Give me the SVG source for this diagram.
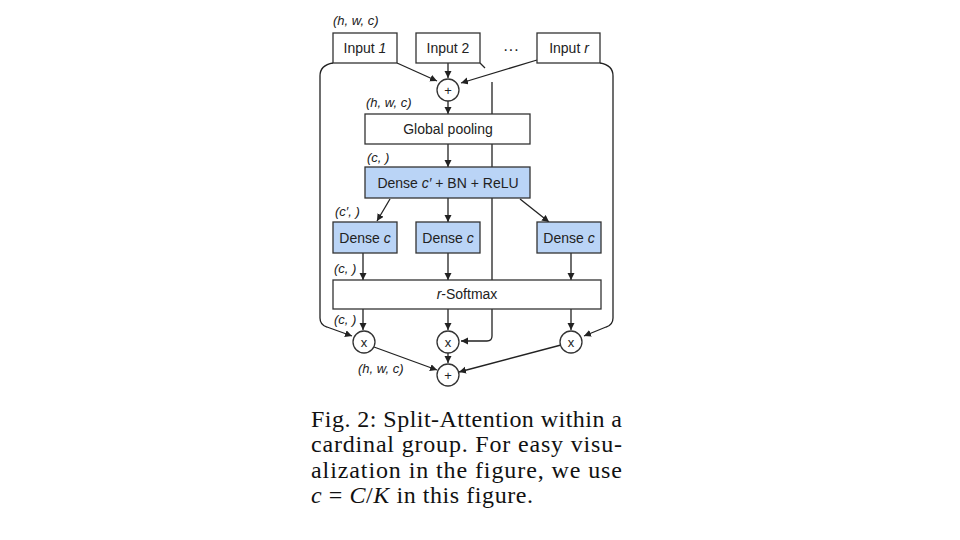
<svg xmlns="http://www.w3.org/2000/svg" width="960" height="540" viewBox="0 0 960 540">
<style>
.box{fill:#fff;stroke:#333;stroke-width:1.3}
.blue{fill:#bad4f6;stroke:#333;stroke-width:1.3}
.t{font-family:"Liberation Sans",Arial,sans-serif;font-size:14px;fill:#222;text-anchor:middle}
.lbl{font-family:"Liberation Sans",Arial,sans-serif;font-size:13px;font-style:italic;fill:#222}
.it{font-style:italic}
.op{fill:#fff;stroke:#333;stroke-width:1.3}
.sym{font-family:"Liberation Sans",Arial,sans-serif;font-size:13px;fill:#222;text-anchor:middle}
.c{fill:none;stroke:#222;stroke-width:1.3}
.cap{font-family:"Liberation Serif","DejaVu Serif",serif;font-size:24px;fill:#111}
</style>
<defs>
<marker id="ah" markerWidth="8" markerHeight="8" refX="7" refY="3.5" orient="auto" markerUnits="userSpaceOnUse">
<path d="M0,0 L7,3.5 L0,7 z" fill="#222"/>
</marker>
</defs>
<rect width="960" height="540" fill="#fff"/>

<g id="connectors">
<path class="c" d="M397,63 L437,81" marker-end="url(#ah)"/>
<path class="c" d="M448,63 L448,78" marker-end="url(#ah)"/>
<path class="c" d="M537,60 L461,83" marker-end="url(#ah)"/>
<path class="c" d="M480,63 L485,68"/>
<path class="c" d="M333,63 Q320,65 320,76 L320,318 Q320,325 327,327 L352,336" marker-end="url(#ah)"/>
<path class="c" d="M600,63 Q613,65 613,76 L613,318 Q613,325 606,327 L584,336" marker-end="url(#ah)"/>
<path class="c" d="M492,82 L492,336 Q492,341 487,341 L461,341" marker-end="url(#ah)"/>
<path class="c" d="M448,101 L448,114" marker-end="url(#ah)"/>
<path class="c" d="M448,144 L448,167" marker-end="url(#ah)"/>
<path class="c" d="M390,199 L377,221" marker-end="url(#ah)"/>
<path class="c" d="M448,198 L448,222" marker-end="url(#ah)"/>
<path class="c" d="M520,199 L549,222" marker-end="url(#ah)"/>
<path class="c" d="M363,253 L363,280" marker-end="url(#ah)"/>
<path class="c" d="M448,253 L448,280" marker-end="url(#ah)"/>
<path class="c" d="M571,253 L571,280" marker-end="url(#ah)"/>
<path class="c" d="M363,309 L363,330" marker-end="url(#ah)"/>
<path class="c" d="M448,309 L448,330" marker-end="url(#ah)"/>
<path class="c" d="M571,309 L571,330" marker-end="url(#ah)"/>
<path class="c" d="M374,347 L437,370" marker-end="url(#ah)"/>
<path class="c" d="M448,353 L448,363" marker-end="url(#ah)"/>
<path class="c" d="M561,345 L459,372" marker-end="url(#ah)"/>
</g>

<g id="input1"><rect class="box" x="333" y="33" width="64" height="30"/><text class="t" x="365" y="53">Input <tspan class="it">1</tspan></text></g>
<g id="input2"><rect class="box" x="416" y="33" width="64" height="30"/><text class="t" x="448" y="53">Input 2</text></g>
<g id="dots"><text class="t" x="511" y="55" style="font-size:16px">···</text></g>
<g id="inputr"><rect class="box" x="537" y="33" width="63" height="30"/><text class="t" x="569" y="53">Input <tspan class="it">r</tspan></text></g>

<g id="plus-top"><circle class="op" cx="448" cy="90" r="11"/><text class="sym" x="448" y="94.5">+</text></g>
<g id="global-pooling"><rect class="box" x="365" y="114" width="165" height="30"/><text class="t" x="448" y="134">Global pooling</text></g>
<g id="dense-cprime"><rect class="blue" x="365" y="167" width="165" height="31"/><text class="t" x="448" y="188">Dense <tspan class="it">c′</tspan> + BN + ReLU</text></g>

<g id="dense1"><rect class="blue" x="333" y="222" width="64" height="31"/><text class="t" x="365" y="243">Dense <tspan class="it">c</tspan></text></g>
<g id="dense2"><rect class="blue" x="416" y="222" width="64" height="31"/><text class="t" x="448" y="243">Dense <tspan class="it">c</tspan></text></g>
<g id="dense3"><rect class="blue" x="537" y="222" width="64" height="31"/><text class="t" x="569" y="243">Dense <tspan class="it">c</tspan></text></g>

<g id="softmax"><rect class="box" x="333" y="280" width="268" height="29"/><text class="t" x="467" y="299"><tspan class="it">r</tspan>-Softmax</text></g>

<g id="mul1"><circle class="op" cx="364" cy="342" r="11"/><text class="sym" x="364" y="346.5">x</text></g>
<g id="mul2"><circle class="op" cx="448" cy="342" r="11"/><text class="sym" x="448" y="346.5">x</text></g>
<g id="mul3"><circle class="op" cx="571" cy="342" r="11"/><text class="sym" x="571" y="346.5">x</text></g>
<g id="plus-bottom"><circle class="op" cx="448" cy="375" r="11"/><text class="sym" x="448" y="379.5">+</text></g>

<g id="labels">
<text class="lbl" x="333" y="25">(h, w, c)</text>
<text class="lbl" x="366" y="107">(h, w, c)</text>
<text class="lbl" x="367" y="162">(c, )</text>
<text class="lbl" x="335" y="216">(c′, )</text>
<text class="lbl" x="334" y="273">(c, )</text>
<text class="lbl" x="334" y="324">(c, )</text>
<text class="lbl" x="358" y="373">(h, w, c)</text>
</g>

<g id="caption">
<text class="cap" x="311" y="427" textLength="311" lengthAdjust="spacing">Fig. 2: Split-Attention within a</text>
<text class="cap" x="311" y="452" textLength="311" lengthAdjust="spacing">cardinal group. For easy visu-</text>
<text class="cap" x="311" y="478" textLength="311" lengthAdjust="spacing">alization in the figure, we use</text>
<text class="cap" x="311" y="503" textLength="222" lengthAdjust="spacing"><tspan class="it">c</tspan> = <tspan class="it">C</tspan>/<tspan class="it">K</tspan> in this figure.</text>
</g>
</svg>
